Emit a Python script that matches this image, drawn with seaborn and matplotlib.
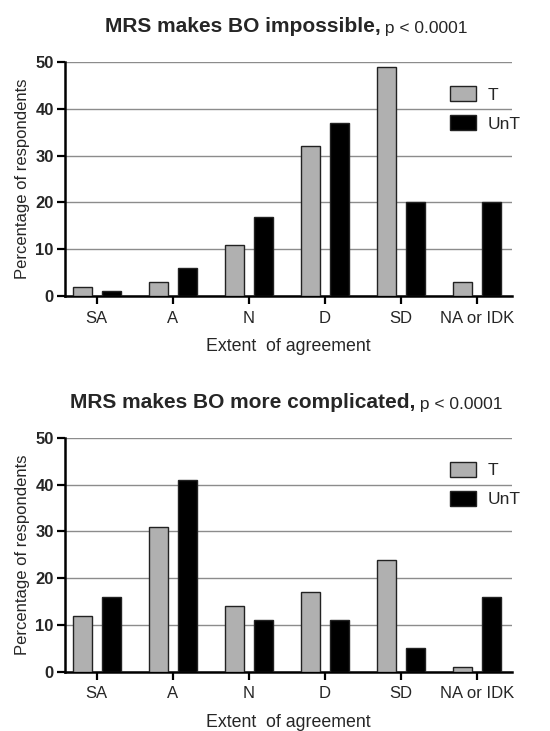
import matplotlib
matplotlib.use("Agg")
import matplotlib.pyplot as plt
import seaborn as sns
import pandas as pd

categories = ["SA", "A", "N", "D", "SD", "NA or IDK"]
groups = ["T", "UnT"]

impossible_T = [2, 3, 11, 32, 49, 3]
impossible_UnT = [1, 6, 17, 37, 20, 20]

complicated_T = [12, 31, 14, 17, 24, 1]
complicated_UnT = [16, 41, 11, 11, 5, 16]

y_ticks = [0, 10, 20, 30, 40, 50]

panels = [
    ("MRS makes BO impossible,", impossible_T, impossible_UnT),
    ("MRS makes BO more complicated,", complicated_T, complicated_UnT),
]
p_text = " p < 0.0001"

sns.set_theme(style="white")
plt.rcParams["font.family"] = ["Liberation Sans", "DejaVu Sans"]

palette = {"T": "#b0b0b0", "UnT": "#000000"}

fig = plt.figure(figsize=(5.5, 7.31), dpi=100)
axes_rects = [
    [0.118, 0.595, 0.813, 0.320],
    [0.118, 0.081, 0.813, 0.320],
]

title_pairs = []
for rect, (title, t_vals, u_vals) in zip(axes_rects, panels):
    ax = fig.add_axes(rect)
    df = pd.DataFrame({
        "category": categories * 2,
        "group": ["T"] * len(categories) + ["UnT"] * len(categories),
        "value": list(t_vals) + list(u_vals),
    })
    sns.barplot(data=df, x="category", y="value", hue="group", order=categories,
                hue_order=groups, palette=palette, width=0.76, gap=0.34,
                edgecolor="#222222", linewidth=1.0, ax=ax, zorder=3)
    ax.set_ylim(0, 50)
    ax.set_xlim(-0.42, 5.46)
    ax.set_yticks(y_ticks)
    ax.set_yticklabels([str(v) for v in y_ticks], fontweight="bold", fontsize=12)
    ax.tick_params(axis="x", labelsize=12, length=6, width=1.6, direction="out",
                   bottom=True, color="black", pad=4.5)
    ax.tick_params(axis="y", length=6, width=1.6, direction="out", left=True,
                   color="black", pad=2)
    ax.yaxis.grid(True, color="#8c8c8c", linewidth=1.0, zorder=0)
    ax.set_axisbelow(True)
    for side in ["top", "right"]:
        ax.spines[side].set_visible(False)
    for side in ["left", "bottom"]:
        ax.spines[side].set_color("black")
        ax.spines[side].set_linewidth(1.8)
    ax.set_ylabel("Percentage of respondents", fontsize=12, labelpad=4)
    ax.set_xlabel("Extent  of agreement", fontsize=12.8, labelpad=9)

    leg = ax.legend(loc="upper right", bbox_to_anchor=(1.055, 0.965), frameon=False,
                    fontsize=12.5, handlelength=1.5, handleheight=1.0,
                    handletextpad=0.7, labelspacing=0.7)
    for h in leg.legend_handles:
        h.set_edgecolor("#222222")
        h.set_linewidth(1.0)

    t1 = ax.text(0.5, 1.11, title, transform=ax.transAxes, ha="left",
                 va="bottom", fontsize=15, fontweight="bold")
    t2 = ax.text(0.5, 1.11, p_text, transform=ax.transAxes, ha="left",
                 va="bottom", fontsize=12.5)
    title_pairs.append((ax, t1, t2))

# center the bold title and its p-value together over the plot area
fig.canvas.draw()
renderer = fig.canvas.get_renderer()
for ax, t1, t2 in title_pairs:
    w1 = t1.get_window_extent(renderer).width
    w2 = t2.get_window_extent(renderer).width
    ax_box = ax.get_window_extent(renderer)
    center_px = ax_box.x0 + 0.495 * ax_box.width
    left_px = center_px - (w1 + w2) / 2
    x1 = (left_px - ax_box.x0) / ax_box.width
    x2 = (left_px + w1 - ax_box.x0) / ax_box.width
    t1.set_x(x1)
    t2.set_x(x2)

fig.savefig("out.png", dpi=100)
